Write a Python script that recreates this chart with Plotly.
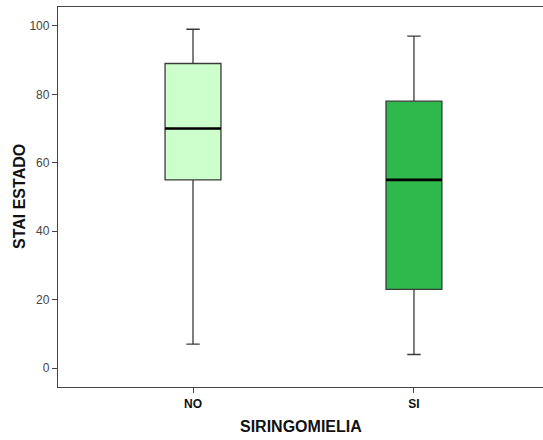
import plotly.graph_objects as go

categories = ["NO", "SI"]
q1 = [55, 23]
median = [70, 55]
q3 = [89, 78]
lower_whisker = [7, 4]
upper_whisker = [99, 97]
fill_colors = ["#ccffcc", "#2fb84b"]
y_ticks = [0, 20, 40, 60, 80, 100]

box_w = 0.253
fig = go.Figure()
for i, cat in enumerate(categories):
    fig.add_trace(go.Box(
        x=[i], q1=[q1[i]], median=[median[i]], q3=[q3[i]],
        lowerfence=[lower_whisker[i]], upperfence=[upper_whisker[i]],
        width=box_w, whiskerwidth=0.24,
        fillcolor=fill_colors[i],
        line=dict(color="#3a3a3a", width=1.3),
        boxpoints=False, hoverinfo="skip", showlegend=False,
    ))
    fig.add_trace(go.Scatter(
        x=[i - box_w / 2, i + box_w / 2], y=[median[i], median[i]],
        mode="lines", line=dict(color="black", width=2.6),
        showlegend=False, hoverinfo="skip",
    ))

font = "Liberation Sans, Arial, sans-serif"
fig.update_layout(
    width=543, height=440,
    margin=dict(l=58, r=0, t=7, b=53),
    plot_bgcolor="white", paper_bgcolor="white",
    font=dict(family=font, color="#333"),
    xaxis=dict(
        range=[-0.611, 1.584], tickvals=list(range(len(categories))),
        ticktext=["<b>%s</b>" % c for c in categories], showline=True, linecolor="#444", linewidth=1.3,
        mirror=True, ticks="outside", ticklen=5, tickcolor="#444",
        showgrid=False, zeroline=False, automargin=False,
        tickfont=dict(size=12, color="#111", family=font),
    ),
    yaxis=dict(
        range=[-5.5, 105.5], tickvals=y_ticks, showline=True, linecolor="#444",
        linewidth=1.3, ticks="outside", ticklen=5, tickcolor="#444",
        showgrid=False, zeroline=False, automargin=False,
        tickfont=dict(size=12, color="#444", family=font),
    ),
    annotations=[
        dict(text="<b>SIRINGOMIELIA</b>", xref="paper", yref="paper",
             x=(301 - 58) / 485, y=-(427 - 387) / 380, showarrow=False,
             xanchor="center", yanchor="middle",
             font=dict(size=16, color="#111", family=font)),
        dict(text="<b>STAI ESTADO</b>", xref="paper", yref="paper",
             x=-(58 - 19) / 485, y=(387 - 197) / 380, showarrow=False, textangle=-90,
             xanchor="center", yanchor="middle",
             font=dict(size=16, color="#111", family=font)),
    ],
)
fig.write_html(
    "out.html",
    config={"displayModeBar": False},
    post_script="document.body.style.margin='0';document.body.style.overflow='hidden';",
)
